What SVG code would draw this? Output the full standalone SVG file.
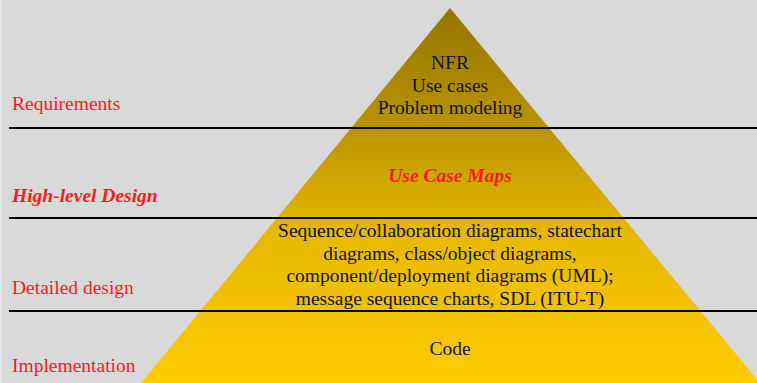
<svg xmlns="http://www.w3.org/2000/svg" width="757" height="383" viewBox="0 0 757 383">
  <defs>
    <linearGradient id="pyramidFill" x1="0" y1="8" x2="0" y2="383" gradientUnits="userSpaceOnUse">
      <stop offset="0" stop-color="#957500"/>
      <stop offset="0.3" stop-color="#b89200"/>
      <stop offset="0.6" stop-color="#e6b800"/>
      <stop offset="1" stop-color="#ffcc00"/>
    </linearGradient>
  </defs>
  <style>
    .layer { font-family: "Liberation Serif", "Times New Roman", serif; font-size: 19.5px; fill: #ff1a1a; }
    .layer-em { font-weight: bold; font-style: italic; }
    .body { font-family: "Liberation Serif", "Times New Roman", serif; font-size: 19.5px; fill: #111; text-anchor: middle; }
    .maps { font-family: "Liberation Serif", "Times New Roman", serif; font-size: 19.5px; fill: #ff1a1a; font-weight: bold; font-style: italic; text-anchor: middle; }
    .divider { stroke: #000; stroke-width: 2; }
  </style>
  <rect width="757" height="383" fill="#d9d9d9"/>
  <rect width="1.5" height="383" fill="#e6e6e6"/>

  <g id="pyramid">
    <polygon points="450,8 141,383 760,383" fill="url(#pyramidFill)"/>
  </g>

  <g id="dividers">
    <line class="divider" x1="9" y1="128" x2="757" y2="128"/>
    <line class="divider" x1="9" y1="218" x2="757" y2="218"/>
    <line class="divider" x1="9" y1="311" x2="757" y2="311"/>
  </g>

  <g id="requirements">
    <text class="layer" x="12" y="109.5">Requirements</text>
    <text class="body" x="450" y="69">NFR</text>
    <text class="body" x="450" y="91.5">Use cases</text>
    <text class="body" x="450" y="114">Problem modeling</text>
  </g>

  <g id="high-level-design">
    <text class="layer layer-em" x="12" y="201.5">High-level Design</text>
    <text class="maps" x="450" y="182">Use Case Maps</text>
  </g>

  <g id="detailed-design">
    <text class="layer" x="12" y="293.5">Detailed design</text>
    <text class="body" x="450" y="237">Sequence/collaboration diagrams, statechart</text>
    <text class="body" x="450" y="259.7">diagrams, class/object diagrams,</text>
    <text class="body" x="450" y="282.4">component/deployment diagrams (UML);</text>
    <text class="body" x="450" y="305">message sequence charts, SDL (ITU-T)</text>
  </g>

  <g id="implementation">
    <text class="layer" x="12" y="371.7">Implementation</text>
    <text class="body" x="450" y="355">Code</text>
  </g>
</svg>
